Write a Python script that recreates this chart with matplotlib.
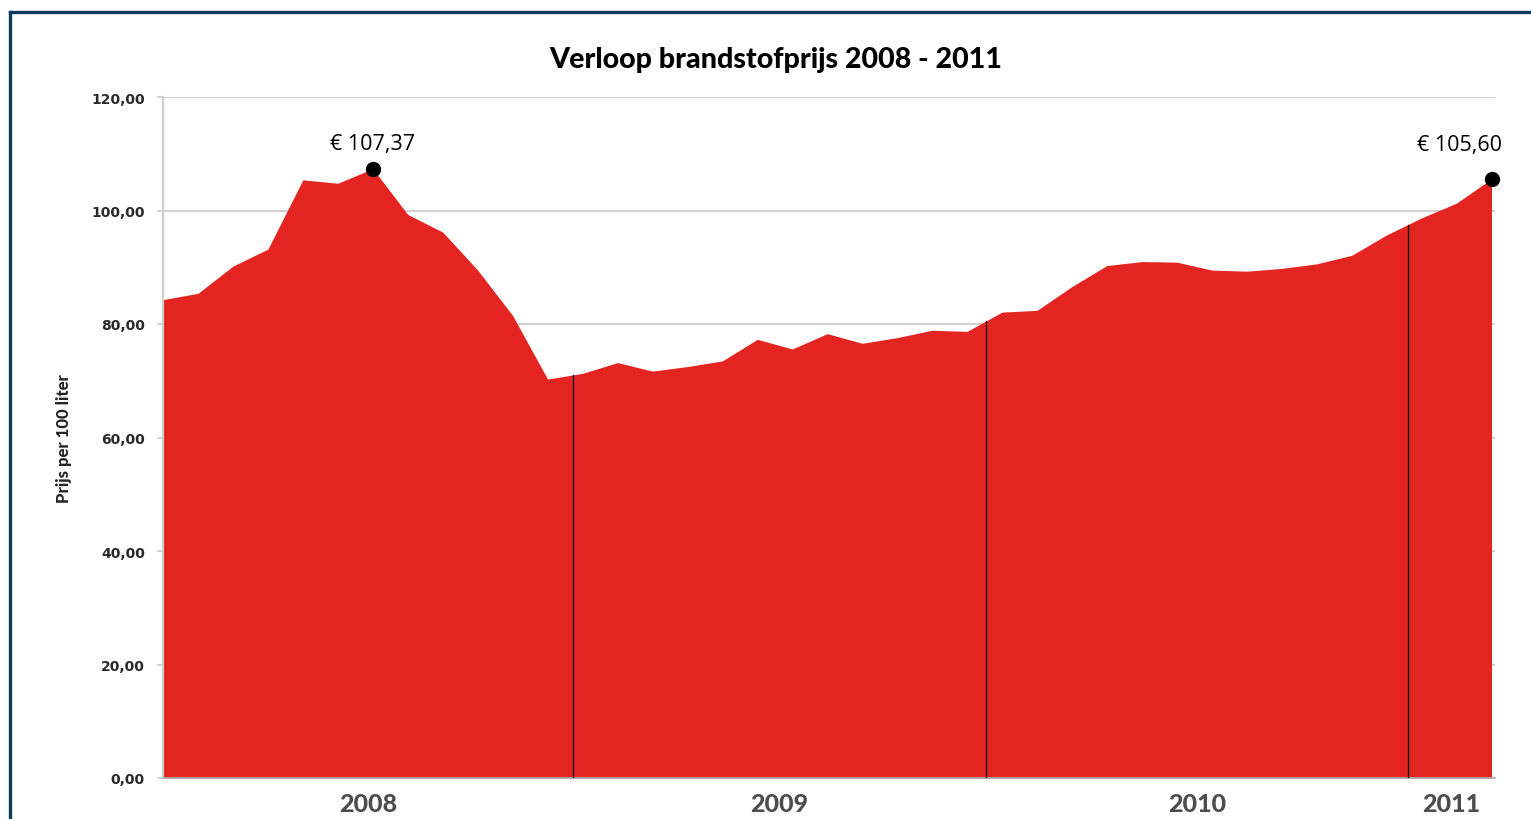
import numpy as np
import matplotlib
matplotlib.use("Agg")
import matplotlib.pyplot as plt
from matplotlib.lines import Line2D
from matplotlib.transforms import blended_transform_factory

# ---- data ----
months = list(range(39))  # Jan 2008 .. Mar 2011
prices = [84.3, 85.4, 90.2, 93.2, 105.4, 104.8, 107.37, 99.3, 96.2, 89.5, 81.5, 70.3,
          71.3, 73.2, 71.7, 72.5, 73.5, 77.3, 75.6, 78.3, 76.6, 77.6, 78.9, 78.7,
          82.1, 82.4, 86.6, 90.3, 91.0, 90.9, 89.5, 89.3, 89.8, 90.6, 92.1, 95.7,
          98.7, 101.3, 105.60]
year_labels = ["2008", "2009", "2010", "2011"]
year_bounds = [0, 11.73, 23.54, 35.61, 38.1]
highlight_idx = [6, 38]
highlight_text = ["€ 107,37", "€ 105,60"]
yticks = [0, 20, 40, 60, 80, 100, 120]

W, H = 1531, 820
fig = plt.figure(figsize=(W / 100, H / 100), dpi=100)
fig.patch.set_facecolor("white")

ax = fig.add_axes([163 / W, 41 / H, 1332 / W, 681 / H])
red = "#E32421"
ax.fill_between(months, prices, 0, color=red, linewidth=0, zorder=2)

ax.set_xlim(year_bounds[0], year_bounds[-1])
ax.set_ylim(0, 120)

ax.set_yticks(yticks)
ax.set_yticklabels([f"{v:.2f}".replace(".", ",") for v in yticks],
                   fontsize=10, fontweight="bold", color="#2a2a2a",
                   family="DejaVu Sans")
ax.yaxis.grid(True, color="#d2d2d2", linewidth=1.6, zorder=0)
ax.set_axisbelow(True)
ax.tick_params(axis="y", length=4, width=1.2, color="#cccccc", pad=9)
ax.tick_params(axis="x", length=0)
ax.set_xticks([])

for s in ["top", "right"]:
    ax.spines[s].set_visible(False)
ax.spines["left"].set_color("#cfcfcf")
ax.spines["left"].set_linewidth(1.6)
ax.spines["bottom"].set_color("#b0b0b0")
ax.spines["bottom"].set_linewidth(1.2)

# year dividers
for b in year_bounds[1:-1]:
    top = np.interp(b, months, prices)
    ax.plot([b, b], [0, top], color="black", linewidth=0.9, zorder=3)

# year labels
trans = blended_transform_factory(ax.transData, ax.transAxes)
for i, lab in enumerate(year_labels):
    cx = (year_bounds[i] + year_bounds[i + 1]) / 2
    ax.text(cx, -0.037, lab, transform=trans, ha="center", va="center",
            fontsize=18, fontweight=900, color="#4d4d4d", family="Lato")

# highlights
offsets = [(0, 15), (-32, 24)]
for idx, txt, off in zip(highlight_idx, highlight_text, offsets):
    ax.plot(months[idx], prices[idx], "o", color="black", markersize=10,
            zorder=5, clip_on=False)
    ax.annotate(txt, (months[idx], prices[idx]), xytext=off,
                textcoords="offset pixels", ha="center", va="bottom",
                fontsize=15.5, family="Open Sans", color="black",
                annotation_clip=False)

ax.set_ylabel("Prijs per 100 liter", fontsize=12, fontweight=900,
              family="Lato", color="#222222", labelpad=14)

fig.text(776 / W, 1 - 60 / H, "Verloop brandstofprijs 2008 - 2011",
         ha="center", va="center", fontsize=20.6, fontweight=900,
         family="Lato", color="black")

# frame lines (left & top)
navy = "#0E3A5E"
fig.add_artist(Line2D([10 / W, 10 / W], [0, 1 - 13 / H], color=navy,
                      linewidth=2.4, transform=fig.transFigure))
fig.add_artist(Line2D([10 / W, 1], [1 - 13 / H, 1 - 13 / H], color=navy,
                      linewidth=2.4, transform=fig.transFigure,
                      solid_capstyle="projecting"))

fig.savefig("out.png", dpi=100)
